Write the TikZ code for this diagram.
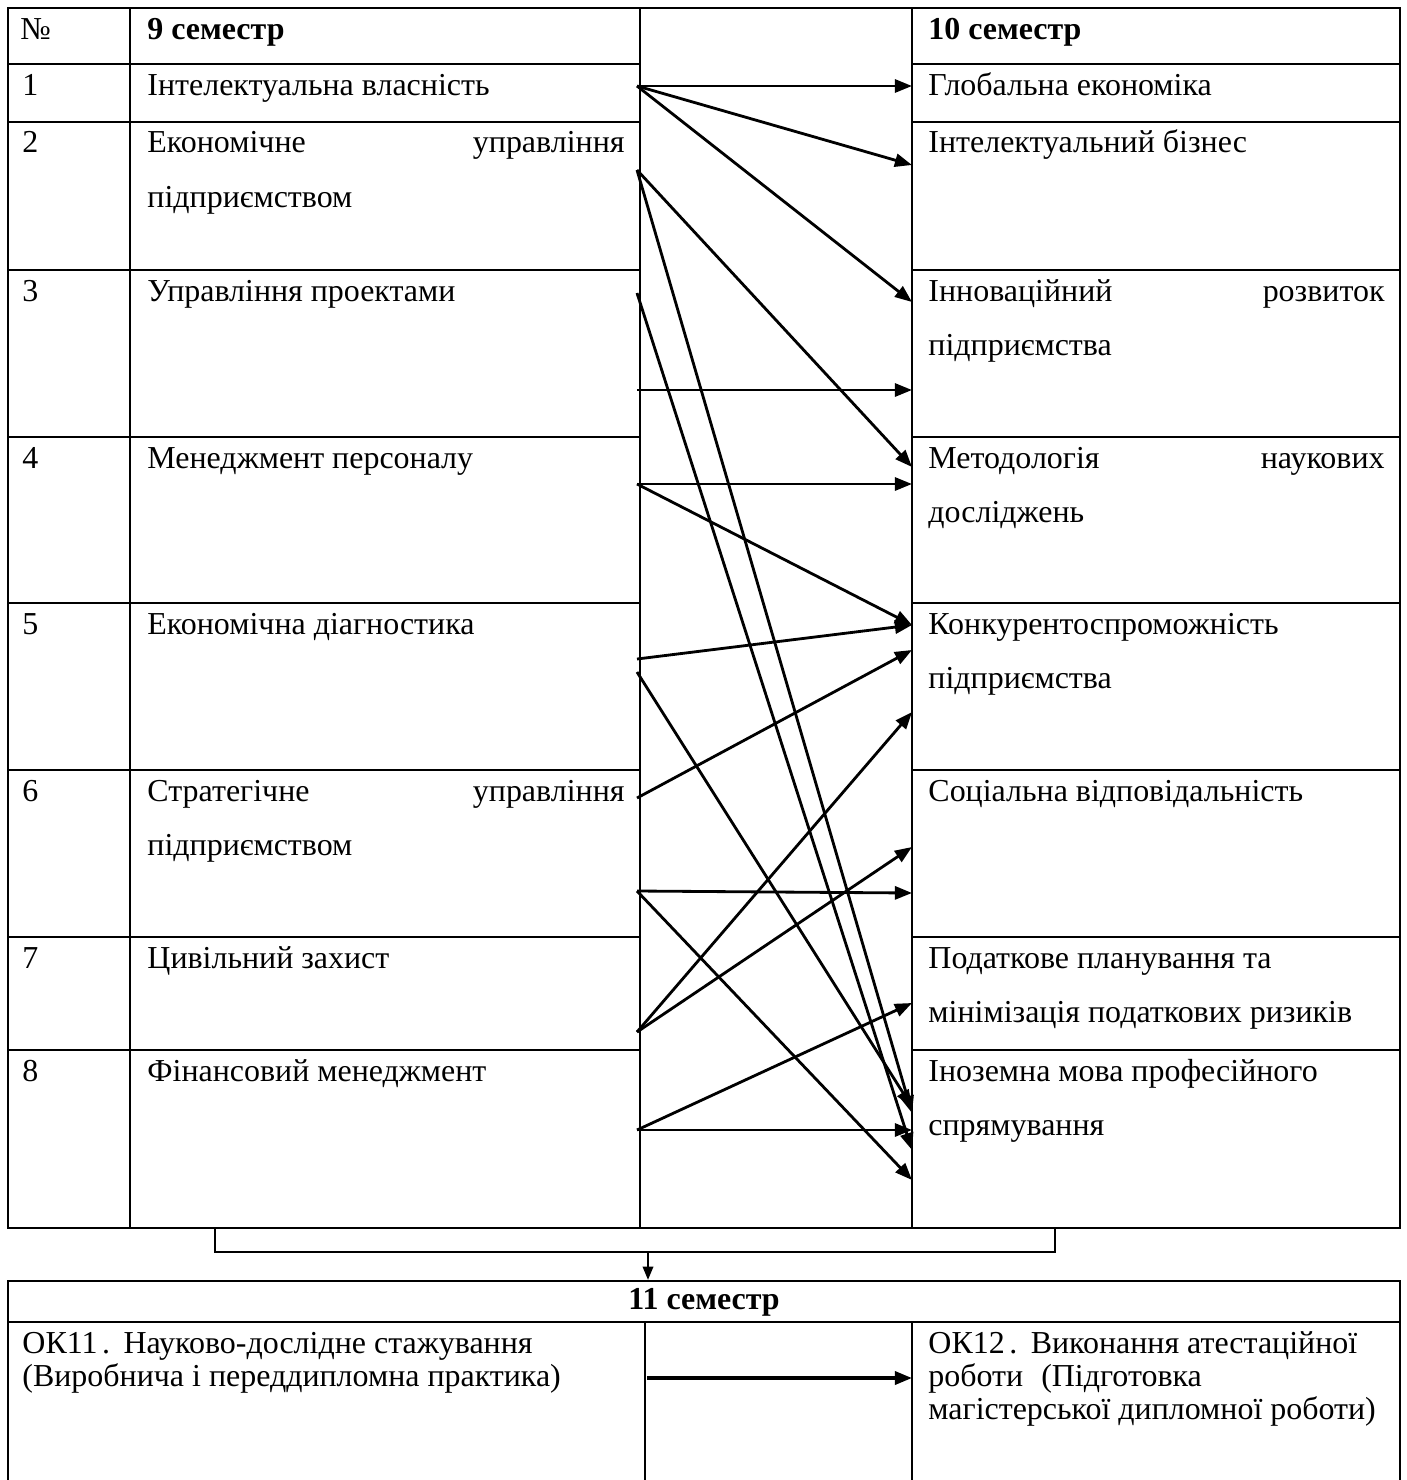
\documentclass[tikz,border=0pt]{standalone}
\usepackage{fontspec}
\setmainfont{Liberation Serif}
\usetikzlibrary{arrows.meta}
\newdimen\pxu \pxu=0.44444pt
\begin{document}
\begin{tikzpicture}[x=0.44444pt,y=-0.44444pt,
  tbl/.style={line width=0.9pt},
  arr/.style={line width=1.25pt,-{Triangle[length=7.6pt,width=5.8pt]}},
  txt/.style={font=\fontsize{14.2pt}{24.2pt}\selectfont,inner sep=0pt,anchor=base west},
  txtr/.style={txt,anchor=base east},
  hdr/.style={txt,font=\fontsize{14.2pt}{24.2pt}\selectfont\bfseries}]
\useasboundingbox (0,0) rectangle (1407,1480);
% main table
\draw[tbl] (8,8) rectangle (1400,1228);
\foreach \xx in {130,640,912} \draw[tbl] (\xx,8) -- (\xx,1228);
\foreach \yy in {64,122,270,437,603,770,937,1050} {
  \draw[tbl] (8,\yy) -- (640,\yy);
  \draw[tbl] (912,\yy) -- (1400,\yy);
}
% header
\node[txt] (hno) at (20,39) {№};
\node[hdr] (h9) at (147,39) {9 семестр};
\node[hdr] (h10) at (928,39) {10 семестр};
% numbers
\foreach \n/\yy in {1/95,2/152,3/301,4/468,5/634,6/801,7/968,8/1081}
  \node[txt] (n\n) at (22,\yy) {\n};
% left column
\node[txt] (l1) at (147,95) {Інтелектуальна власність};
\node[txt] (l2a) at (147,152) {Економічне};
\node[txtr] (l2b) at (625,152) {управління};
\node[txt] (l2c) at (147,207) {підприємством};
\node[txt] (l3) at (147,301) {Управління проектами};
\node[txt] (l4) at (147,468) {Менеджмент персоналу};
\node[txt] (l5) at (147,634) {Економічна діагностика};
\node[txt] (l6a) at (147,801) {Стратегічне};
\node[txtr] (l6b) at (625,801) {управління};
\node[txt] (l6c) at (147,855) {підприємством};
\node[txt] (l7) at (147,968) {Цивільний захист};
\node[txt] (l8) at (147,1081) {Фінансовий менеджмент};
% right column
\node[txt] (r1) at (928,95) {Глобальна економіка};
\node[txt] (r2) at (928,152) {Інтелектуальний бізнес};
\node[txt] (r3a) at (928,301) {Інноваційний};
\node[txtr] (r3b) at (1385,301) {розвиток};
\node[txt] (r3c) at (928,355) {підприємства};
\node[txt] (r4a) at (928,468) {Методологія};
\node[txtr] (r4b) at (1385,468) {наукових};
\node[txt] (r4c) at (928,522) {досліджень};
\node[txt] (r5a) at (928,634) {Конкурентоспроможність};
\node[txt] (r5b) at (928,688) {підприємства};
\node[txt] (r6) at (928,801) {Соціальна відповідальність};
\node[txt] (r7a) at (928,968) {Податкове планування та};
\node[txt] (r7b) at (928,1022) {мінімізація податкових ризиків};
\node[txt] (r8a) at (928,1081) {Іноземна мова професійного};
\node[txt] (r8b) at (928,1135) {спрямування};
% arrow anchor points
\coordinate (a1) at (637,86);
\coordinate (a2) at (637,170);
\coordinate (a3) at (637,293);
\coordinate (a3b) at (637,390);
\coordinate (a4) at (637,484);
\coordinate (a5) at (637,659);
\coordinate (a5b) at (637,672);
\coordinate (a6) at (637,798);
\coordinate (a6b) at (637,891);
\coordinate (a7) at (637,1032);
\coordinate (a8) at (637,1130);
\coordinate (e1) at (912,86);
\coordinate (e2) at (912,165);
\coordinate (e3) at (912,302);
\coordinate (e4) at (912,467);
\coordinate (e5) at (912,1113);
\coordinate (e6) at (912,1150);
\coordinate (e7) at (912,390);
\coordinate (e8) at (912,484);
\coordinate (e9) at (912,625);
\coordinate (e10) at (912,1107);
\coordinate (e11) at (912,650);
\coordinate (e12) at (912,893);
\coordinate (e13) at (912,1180);
\coordinate (e14) at (912,712);
\coordinate (e15) at (912,847);
\coordinate (e16) at (912,1003);
\coordinate (e17) at (912,1130);
\draw[arr] (a1) -- (e1);
\draw[arr] (a1) -- (e2);
\draw[arr] (a1) -- (e3);
\draw[arr] (a2) -- (e4);
\draw[arr] (a2) -- (e5);
\draw[arr] (a3) -- (e6);
\draw[arr] (a3b) -- (e7);
\draw[arr] (a4) -- (e8);
\draw[arr] (a4) -- (e9);
\draw[arr] (a5) -- (e9);
\draw[arr] (a5b) -- (e10);
\draw[arr] (a6) -- (e11);
\draw[arr] (a6b) -- (e12);
\draw[arr] (a6b) -- (e13);
\draw[arr] (a7) -- (e14);
\draw[arr] (a7) -- (e15);
\draw[arr] (a8) -- (e16);
\draw[arr] (a8) -- (e17);
% bracket to 11 semester
\draw[tbl] (215,1228) -- (215,1252) -- (1055,1252) -- (1055,1228);
\coordinate (b1) at (648,1252);
\coordinate (b2) at (648,1280);
\draw[line width=1.1pt,-{Triangle[length=6pt,width=4.6pt]}] (b1) -- (b2);
% bottom table
\draw[tbl] (8,1480) -- (8,1281) -- (1400,1281) -- (1400,1480);
\draw[tbl] (8,1322) -- (1400,1322);
\draw[tbl] (645,1322) -- (645,1480);
\draw[tbl] (912,1322) -- (912,1480);
\node[hdr,anchor=base] (h11) at (704,1309) {11 семестр};
\node[txt] (ok11a) at (22,1353) {ОК11\hspace{2pt}.\hspace{6pt}Науково-дослідне стажування};
\node[txt] (ok11b) at (22,1386) {(Виробнича і переддипломна практика)};
\node[txt] (ok12a) at (928,1353) {ОК12\hspace{2pt}.\hspace{6pt}Виконання атестаційної};
\node[txt] (ok12b) at (928,1386) {роботи\hspace{8pt}(Підготовка};
\node[txt] (ok12c) at (928,1419) {магістерської дипломної роботи)};
\coordinate (c1) at (647,1378);
\coordinate (c2) at (912,1378);
\draw[arr,line width=1.5pt] (c1) -- (c2);
\end{tikzpicture}
\end{document}
